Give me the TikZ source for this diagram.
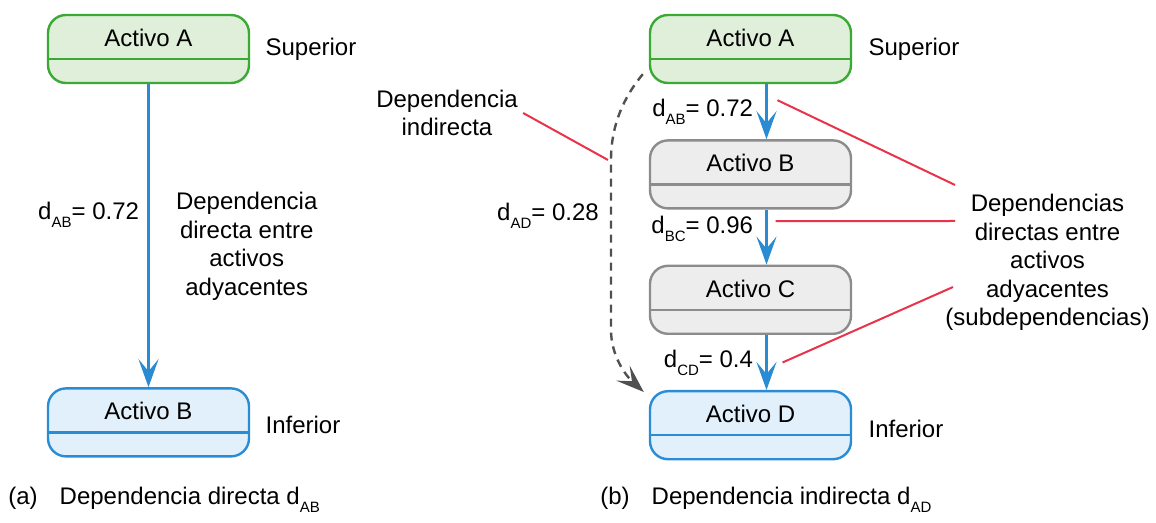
\documentclass[tikz,border=0pt]{standalone}
\usepackage{fontspec}
\setmainfont{Liberation Sans}
\usetikzlibrary{positioning,arrows.meta}
\definecolor{actGreen}{HTML}{3BAA35}
\definecolor{actGreenFill}{HTML}{DFEFD9}
\definecolor{actGray}{HTML}{8C8C8C}
\definecolor{actGrayFill}{HTML}{EDEDED}
\definecolor{actBlue}{HTML}{2B8CD6}
\definecolor{actBlueFill}{HTML}{E1F0FB}
\definecolor{arrowBlue}{HTML}{2A8BD2}
\definecolor{noteRed}{HTML}{E8334A}
\definecolor{indGray}{HTML}{505050}
\newcommand{\labelfont}{\fontsize{12}{14.3}\selectfont}
\newcommand{\dsub}[1]{\raisebox{-4pt}{\fontsize{7.5}{8}\selectfont #1}}
\tikzset{
  asset/.style={draw=#1, line width=1.2pt, rounded corners=9pt, minimum width=100.5pt, inner xsep=0pt, inner ysep=0pt, text height=15.75pt, text depth=18.25pt, font=\labelfont,
    path picture={\draw[#1, line width=1.2pt] ([yshift=12pt]path picture bounding box.south west) -- ([yshift=12pt]path picture bounding box.south east);}},
  assetGreen/.style={asset=actGreen, fill=actGreenFill},
  assetGray/.style={asset=actGray, fill=actGrayFill},
  assetBlue/.style={asset=actBlue, fill=actBlueFill},
  depArrow/.style={-{Stealth[length=14pt, width=10pt, inset=6pt]}, draw=arrowBlue, line width=1.5pt},
  indArrow/.style={-{Stealth[length=14pt, width=10pt, inset=6pt]}, draw=indGray, line width=1.2pt, dash pattern=on 4pt off 3pt},
  noteLine/.style={draw=noteRed, line width=1pt},
  txt/.style={font=\labelfont, align=center, inner sep=0pt},
  weight/.style={font=\labelfont, inner sep=0pt}
}

\begin{document}
\begin{tikzpicture}[x=0.5pt, y=-0.5pt]
  \useasboundingbox (0,0) rectangle (1156,523);
  % (a) direct dependency
  \node[assetGreen] (lA) at (148.5,49) {Activo A};
  \node[assetBlue, below=151.5pt of lA] (lB) {Activo B};
  \node[txt, right=7.5pt of lA] (lSup) {Superior};
  \node[txt, right=7.5pt of lB, yshift=-1.5pt] (lInf) {Inferior};
  \draw[depArrow] (lA) -- node[weight, pos=0.43, left=4pt] (lwAB) {d\dsub{AB}= 0.72}
    node[txt, pos=0.535, right=13pt] (lNote) {Dependencia\\directa entre\\activos\\adyacentes} (lB);

  % (b) indirect dependency
  \node[assetGreen] (rA) at (750.5,49) {Activo A};
  \node[assetGray, below=27.5pt of rA] (rB) {Activo B};
  \node[assetGray, below=27.5pt of rB] (rC) {Activo C};
  \node[assetBlue, below=27.5pt of rC] (rD) {Activo D};
  \node[txt, right=8pt of rA] (rSup) {Superior};
  \node[txt, right=8pt of rD, yshift=-2pt] (rInf) {Inferior};
  \draw[depArrow] ([xshift=8pt]rA.south) -- coordinate[pos=0.5] (mAB)
    node[weight, pos=0.5, left=6pt] (wAB) {d\dsub{AB}= 0.72} ([xshift=8pt]rB.north);
  \draw[depArrow] ([xshift=8pt]rB.south) -- coordinate[pos=0.5] (mBC)
    node[weight, pos=0.35, left=6pt] (wBC) {d\dsub{BC}= 0.96} ([xshift=8pt]rC.north);
  \draw[depArrow] ([xshift=8pt]rC.south) -- coordinate[pos=0.5] (mCD)
    node[weight, pos=0.5, left=6pt] (wCD) {d\dsub{CD}= 0.4} ([xshift=8pt]rD.north);

  \draw[indArrow] ([xshift=-3pt,yshift=5pt]rA.south west) .. controls (628,92) and (611,120) .. (611,160) coordinate (dTouch)
    -- node[weight, pos=0.33, left=5.5pt] (wAD) {d\dsub{AD}= 0.28} (611,330)
    .. controls (611,355) and (625,375) .. ([xshift=-2.5pt,yshift=-1pt]rD.north west);

  \node[txt] (indNote) at (447,113) {Dependencia\\indirecta};
  \node[txt] (dirNote) at (1047.5,262.5) {Dependencias\\directas entre\\activos\\adyacentes\\(subdependencias)};
  \draw[noteLine] ([xshift=2.5pt]indNote.east) -- ([xshift=-1.5pt]dTouch);
  \draw[noteLine] ([shift={(5.5pt,5.75pt)}]mAB) -- ([shift={(5pt,38.75pt)}]dirNote.west);
  \draw[noteLine] ([shift={(4.5pt,8pt)}]mBC) -- ([shift={(5pt,20.75pt)}]dirNote.west);
  \draw[noteLine] ([xshift=8pt]mCD) -- ([shift={(4pt,-12.25pt)}]dirNote.west);

  % captions
  \node[weight, anchor=west] (capA) at (8,500) {(a)\hspace{11pt}Dependencia directa d\dsub{AB}};
  \node[weight, anchor=west] (capB) at (600,500) {(b)\hspace{11pt}Dependencia indirecta d\dsub{AD}};
\end{tikzpicture}
\end{document}
